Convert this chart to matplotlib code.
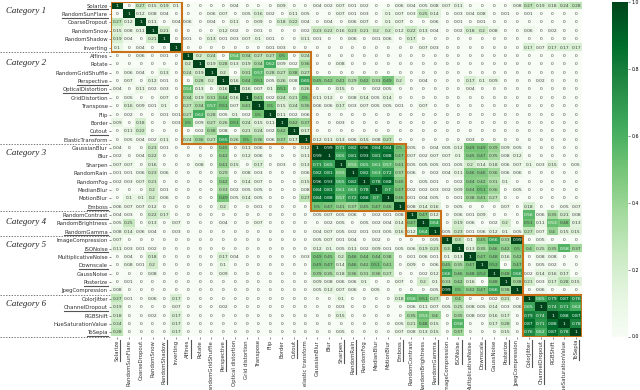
"""Correlation heatmap of image augmentations grouped by category."""
import numpy as np

import matplotlib
matplotlib.use('Agg')
import matplotlib.pyplot as plt
from matplotlib.lines import Line2D
from matplotlib.patches import Rectangle

Y_LABELS = ['Solarize', 'RandomSunFlare', 'CoarseDropout', 'RandomSnow', 'RandomShadow', 'Inverting',
            'Affines', 'Rotate', 'RandomGridShuffle', 'Perspective', 'OpticalDistortion', 'GridDistortion',
            'Transpose', 'Flip', 'Border', 'Cutout', 'ElasticTransform',
            'GaussianBlur', 'Blur', 'Sharpen', 'RandomRain', 'RandomFog', 'MedianBlur', 'MotionBlur', 'Emboss',
            'RandomContrast', 'RandomBrightness', 'RandomGamma',
            'ImageCompression', 'ISONoise', 'MultiplicativeNoise', 'Downscale', 'GaussNoise', 'Posterize',
            'JpegCompression',
            'ColorJitter', 'ChannelDropout', 'RGBShift', 'HueSaturationValue', 'ToSepia']
X_LABELS = list(Y_LABELS)
X_LABELS[10] = 'Optical distortion'
X_LABELS[11] = 'Grid distortion'
X_LABELS[16] = 'elastic transform'

UNDERLINED_Y = ['Solarize', 'RandomSunFlare', 'Perspective', 'OpticalDistortion', 'Cutout', 'Emboss',
                'RandomContrast', 'RandomGamma', 'ISONoise', 'Downscale', 'Posterize', 'ChannelDropout', 'ToSepia']
UNDERLINED_X = ['Solarize', 'RandomShadow', 'Affines', 'Perspective', 'Cutout', 'Sharpen', 'RandomRain', 'Emboss',
                'RandomGamma', 'ISONoise', 'Downscale', 'Posterize', 'ColorJitter', 'ChannelDropout', 'ToSepia']

CATEGORY_NAMES = ['Category 1', 'Category 2', 'Category 3', 'Category 4', 'Category 5', 'Category 6']
CATEGORY_SIZES = [6, 11, 8, 3, 7, 5]

# upper triangle, each row starts at its diagonal cell
UPPER_ROWS = [
    [1, 0, .27, .15, .19, .1, 0, 0, 0, 0, .04, 0, 0, 0, .09, 0, 0, .04, .02, .07, .01, .02, 0, 0, .06, .04, .05, .08,
     .07, .11, 0, 0, 0, 0, .08, .27, .19, .18, .24, .28],
    [1, .12, .08, .04, 0, 0, 0, .06, .07, 0, .05, .16, .02, 0, .11, .05, 0, 0, .07, .01, .03, 0, .1, .07, .03, .25,
     .14, 0, .03, .04, .08, 0, .01, 0, .01, 0, 0, 0, 0],
    [1, .11, 0, .04, .06, 0, .04, 0, .11, 0, .09, 0, .18, .22, .04, 0, .04, 0, .06, .07, 0, .1, .07, 0, 0, .06, 0,
     .01, 0, .01, 0, 0, 0, 0, 0, 0, 0, 0],
    [1, .21, 0, 0, 0, 0, .12, .02, 0, .01, 0, 0, 0, .02, .23, .22, .16, .23, .21, .2, .2, .12, .22, .13, .04, 0, .02,
     .18, .2, .08, 0, 0, .06, 0, .02, 0, 0],
    [1, 0, .01, 0, .13, .01, .03, .07, .1, .01, 0, 0, .11, .01, 0, 0, .06, 0, .01, .06, 0, .17, 0, 0, 0, 0, 0, 0, 0,
     0, 0, 0, 0, 0, 0, 0],
    [1, 0, 0, 0, 0, 0, 0, 0, .01, .03, 0, 0, 0, 0, 0, 0, 0, 0, 0, 0, 0, .07, .03, 0, 0, 0, 0, 0, 0, 0, .17, .07, .17,
     .17, .17],
    [1, .2, .24, 0, .54, .34, .27, .27, .5, 0, .24] + [0] * 23,
    [1, .19, .28, .13, .19, .34, .62, .09, .02, .36, 0, 0, .08] + [0] * 20,
    [1, .2, 0, .31, .57, .28, .27, .38, .27] + [0] * 23,
    [1, .16, .44, .51, .05, .26, .08, .65, .45, .42, .41, .29, .42, .33, .49, .2, 0, .04, 0, 0, 0, .17, .1, .09, 0,
     0, 0, .02, 0, 0, 0],
    [1, .16, .07, .1, .51, 0, .26, 0, 0, .15, 0, 0, .02, .05, 0, 0, 0, 0, 0, 0, .04, 0, 0, 0, 0, 0, 0, 0, 0, 0],
    [1, .41, .02, .24, .21, .5, .11, .12, 0, .08, .14, .05, .14, 0] + [0] * 15,
    [1, .5, .15, .24, .36, .06, .06, .17, .03, .07, .05, .05, .01, 0, .07, 0] + [0] * 12,
    [1, .11, .02, .06] + [0] * 23,
    [1, .42, .37, 0, 0, .03] + [0] * 20,
    [1, .17] + [0] * 23,
    [1, .12, .11, .13, .06, .15, .08, .27, 0, 0, 0, 0, 0, 0, .03] + [0] * 9,
    [1, .99, .71, .82, .96, .84, .84, .5, .05, 0, .04, .05, .12, .49, .49, .39, .09, .05, 0, 0, 0, 0, 0],
    [1, .65, .81, .93, .81, .88, .47, .07, .02, .07, .07, .1, .45, .47, .35, .08, .12, 0, 0, 0, 0, 0],
    [1, .55, .65, .61, .57, .41, .05, .05, .05, .01, .05, .2, .14, .18, .06, .07, .1, .03, .15, 0, .05],
    [1, .82, .63, .72, .37, .06, 0, .02, .04, .11, .46, .46, .36, .06, .06, 0, 0, 0, 0, 0],
    [1, .78, .88, .45, 0, .05, .01, 0, .02, .44, .42, .31, .1, 0, 0, 0, 0, 0, 0],
    [1, .7, .47, .02, .02, .03, .02, .09, .44, .51, .36, 0, .05, 0, 0, 0, 0, 0],
    [1, .46, .01, .04, .05, 0, .01, .38, .41, .27, 0, 0, 0, 0, 0, 0, 0],
    [1, .08, .14, .16, 0, .05, 0, 0, 0, .07, 0, .18, 0, 0, .05, .07],
    [1, .47, .12, 0, .06, .01, .09, 0, 0, 0, .56, .06, .35, .21, .08],
    [1, .64, 0, .19, .06, 0, .02, .2, 0, .51, .11, .53, .48, .13],
    [1, .05, .23, .01, .06, .12, .1, .05, .27, .07, .4, .15, .15],
    [1, .3, .1, .45, .66, .33, .99, 0, .05, 0, 0, 0],
    [1, .13, .35, .46, .42, .5, .4, .25, .35, .58, .37],
    [1, .47, .48, .16, .42, 0, .08, .08, 0, 0],
    [1, .52, 0, .47, 0, .05, .02, 0, 0],
    [1, .48, .66, .02, .14, .16, .17, 0],
    [1, .38, .21, .03, .17, .28, .15],
    [1, 0, .06, 0, 0, 0],
    [1, .65, .79, .87, .76],
    [1, .74, .71, .62],
    [1, .88, .87],
    [1, .78],
    [1],
]

W, H = 640, 390
ORANGE = '#c8701a'


def main():
    n = len(Y_LABELS)
    mat = np.zeros((n, n))
    for i, row in enumerate(UPPER_ROWS):
        mat[i, i:] = row
        mat[i:, i] = row

    fig = plt.figure(figsize=(W / 100, H / 100), dpi=100)
    ax = fig.add_axes([111.4 / W, 1 - 336.5 / H, 470.6 / W, 335 / H])
    im = ax.imshow(mat, cmap='Greens', vmin=0, vmax=1, aspect='auto', interpolation='nearest')

    for i in range(n):
        for j in range(n):
            v = mat[i, j]
            ax.text(j, i, f'{v:.2g}', ha='center', va='center', fontsize=3.2,
                    color='white' if v > 0.52 else '#404040')

    ax.set_xticks(range(n))
    ax.set_yticks(range(n))
    ax.set_xticklabels(X_LABELS, rotation=90, fontsize=3.85, color='#333333')
    ax.set_yticklabels(Y_LABELS, fontsize=3.85, color='#333333')
    ax.tick_params(length=1.5, width=0.4, pad=1, color='#333333')
    for s in ax.spines.values():
        s.set_visible(False)

    # category boxes, dotted separators and names
    start = 0
    name_y = [11, 63, 153, 222, 245, 304]
    for size, name, y_px in zip(CATEGORY_SIZES, CATEGORY_NAMES, name_y):
        ax.add_patch(Rectangle((start - 0.5, start - 0.5), size, size, fill=False,
                               edgecolor=ORANGE, linewidth=1.5, zorder=5))
        end_y = 1 - (1.5 + (start + size) * 335 / n) / H
        fig.add_artist(Line2D([0, 110 / W], [end_y, end_y], color='#444444', linewidth=0.5,
                              linestyle=(0, (2, 2))))
        fig.text(6 / W, 1 - y_px / H, name, fontsize=6.4, family='Liberation Serif', style='italic',
                 va='center', ha='left', color='#222222')
        start += size

    cax = fig.add_axes([611.7 / W, 1 - 336.5 / H, 16.3 / W, 335 / H])
    cbar = fig.colorbar(im, cax=cax)
    cbar.outline.set_visible(False)
    cbar.set_ticks([0, 0.2, 0.4, 0.6, 0.8, 1.0])
    cbar.ax.tick_params(labelsize=3.4, length=1.5, width=0.4, pad=1, color='#333333')

    # underlines under some of the labels, they need the drawn text extents
    fig.canvas.draw()
    for lab in ax.get_yticklabels():
        if lab.get_text() in UNDERLINED_Y:
            bb = lab.get_window_extent()
            y = (bb.y0 - 0.6) / H
            fig.add_artist(Line2D([bb.x0 / W, bb.x1 / W], [y, y], color='#555555', linewidth=0.8))
    for lab in ax.get_xticklabels():
        if lab.get_text() in UNDERLINED_X:
            bb = lab.get_window_extent()
            x = (bb.x1 + 0.6) / W
            fig.add_artist(Line2D([x, x], [bb.y0 / H, bb.y1 / H], color='#555555', linewidth=0.8))

    fig.savefig('out.png', dpi=100)
    plt.close(fig)


if __name__ == '__main__':
    main()
